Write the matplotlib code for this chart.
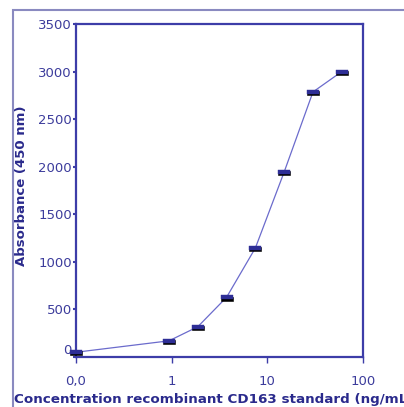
import matplotlib
matplotlib.use("Agg")
import matplotlib.pyplot as plt
import matplotlib.transforms as mtransforms
from matplotlib.path import Path
from matplotlib.patches import Rectangle

# standard dilution series (0 is drawn at 0.1 on the log axis)
concentration = [0.1, 0.9375, 1.875, 3.75, 7.5, 15, 30, 60]
absorbance = [50, 170, 318, 628, 1146, 1945, 2786, 3000]

x_ticks = [0.1, 1, 10, 100]
x_tick_labels = ["0,0", "1", "10", "100"]
y_ticks = [0, 500, 1000, 1500, 2000, 2500, 3000, 3500]

AXIS_COLOR = "#3d3da8"
TEXT_COLOR = "#3c3c9c"
LABEL_COLOR = "#2a2a8c"

fig = plt.figure(figsize=(4.04, 4.07), dpi=100)
ax = fig.add_axes([76 / 404, 1 - 357 / 407, (363 - 76) / 404, (357 - 24) / 407])

# outer frame (left and top edges visible)
fig.patches.append(Rectangle((13 / 404, -0.1), 1.2, 1 - 10 / 407 + 0.1,
                             transform=fig.transFigure, fill=False,
                             edgecolor="#8a8ac0", linewidth=1.5))

rect = Path([(-3, -1), (3, -1), (3, 1), (-3, 1), (-3, -1)],
            [Path.MOVETO, Path.LINETO, Path.LINETO, Path.LINETO, Path.CLOSEPOLY])

ax.plot(concentration, absorbance, color="#6b6bcc", linewidth=0.9, zorder=2)
shadow = mtransforms.offset_copy(ax.transData, fig=fig, x=0, y=-0.9, units="points")
ax.plot(concentration, absorbance, linestyle="none", marker=rect, markersize=9,
        markerfacecolor="black", markeredgecolor="black", markeredgewidth=0.4,
        transform=shadow, zorder=3, clip_on=False)
ax.plot(concentration, absorbance, linestyle="none", marker=rect, markersize=9,
        markerfacecolor="#2e2e96", markeredgecolor="#2e2e96", markeredgewidth=0.3,
        zorder=4, clip_on=False)

ax.set_xscale("log")
ax.set_xlim(0.1, 100)
ax.set_ylim(0, 3500)
ax.set_xticks(x_ticks)
ax.set_xticklabels(x_tick_labels)
ax.minorticks_off()
ax.set_yticks(y_ticks)

for spine in ax.spines.values():
    spine.set_color(AXIS_COLOR)
    spine.set_linewidth(1.6)

ax.tick_params(axis="x", direction="out", length=4, width=1, color=AXIS_COLOR,
               labelcolor=TEXT_COLOR, labelsize=9.5, pad=9)
ax.tick_params(axis="y", direction="out", length=2, width=1.5, color=AXIS_COLOR,
               labelcolor=TEXT_COLOR, labelsize=9.5, pad=1)
ax.get_yticklabels()[0].set_va("bottom")

fig.text(22 / 404, 1 - 186 / 407, "Absorbance (450 nm)", rotation=90,
         ha="center", va="center", fontsize=9.5, fontweight="bold", color=LABEL_COLOR)
# the reference cuts this label off at the right edge
fig.text(14 / 404, 1 - 399 / 407, "Concentration recombinant CD163 standard (ng/mL)",
         ha="left", va="center", fontsize=9.7, fontweight="bold", color=LABEL_COLOR)

fig.savefig("out.png", dpi=100)
